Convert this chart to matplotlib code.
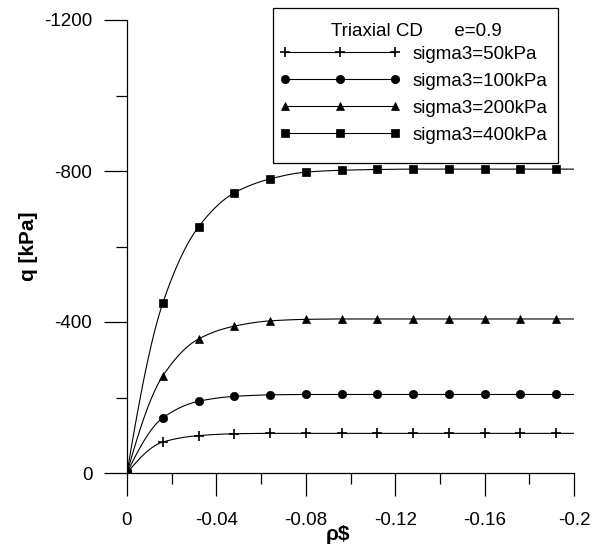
import numpy as np
import matplotlib
matplotlib.use("Agg")
import matplotlib.pyplot as plt
from matplotlib.patches import Rectangle
from matplotlib.ticker import MultipleLocator, FixedLocator, FixedFormatter

plt.rcParams["font.family"] = ["Liberation Sans", "DejaVu Sans"]

# axial strain (negative = compression) and deviator stress q [kPa]
strain = [0.0, -0.016, -0.032, -0.048, -0.064, -0.080, -0.096, -0.112,
          -0.128, -0.144, -0.160, -0.176, -0.192, -0.200]
q_50 = [0, -82, -99, -104, -105, -105, -105, -105, -105, -105, -105, -105, -105, -105]
q_100 = [0, -146, -190, -203, -207, -208, -208, -208, -208, -208, -208, -208, -208, -208]
q_200 = [0, -257, -355, -389, -403, -407, -408, -408, -408, -408, -408, -408, -408, -408]
q_400 = [0, -450, -652, -742, -779, -797, -802, -804, -805, -805, -805, -805, -805, -805]

labels = ["sigma3=50kPa", "sigma3=100kPa", "sigma3=200kPa", "sigma3=400kPa"]
markers = ["+", "o", "^", "s"]
marker_sizes = [7, 6, 6, 6]

x_ticks = [0, -0.04, -0.08, -0.12, -0.16, -0.2]
x_tick_labels = ["0", "-0.04", "-0.08", "-0.12", "-0.16", "-0.2"]
y_ticks = [0, -400, -800, -1200]
y_tick_labels = ["0", "-400", "-800", "-1200"]


def pchip(x, y, xn):
    """Monotone cubic Hermite curve through the given points."""
    x = np.asarray(x, float)
    y = np.asarray(y, float)
    h = np.diff(x)
    d = np.diff(y) / h
    n = len(x)
    m = np.zeros(n)
    for k in range(1, n - 1):
        if d[k - 1] * d[k] > 0:
            w1 = 2 * h[k] + h[k - 1]
            w2 = h[k] + 2 * h[k - 1]
            m[k] = (w1 + w2) / (w1 / d[k - 1] + w2 / d[k])
    m0 = ((2 * h[0] + h[1]) * d[0] - h[0] * d[1]) / (h[0] + h[1])
    if np.sign(m0) != np.sign(d[0]):
        m0 = 0.0
    elif np.sign(d[0]) != np.sign(d[1]) and abs(m0) > abs(3 * d[0]):
        m0 = 3 * d[0]
    m[0] = m0
    out = np.empty_like(xn)
    for i, xv in enumerate(xn):
        k = np.searchsorted(-x, -xv, side="right") - 1
        k = min(max(k, 0), n - 2)
        t = (xv - x[k]) / h[k]
        h00 = 2 * t**3 - 3 * t**2 + 1
        h10 = t**3 - 2 * t**2 + t
        h01 = -2 * t**3 + 3 * t**2
        h11 = t**3 - t**2
        out[i] = h00 * y[k] + h10 * h[k] * m[k] + h01 * y[k + 1] + h11 * h[k] * m[k + 1]
    return out


W, H = 597, 557
fig = plt.figure(figsize=(W / 100, H / 100), dpi=100)
ax = fig.add_axes([127 / W, 1 - 473 / H, (574 - 127) / W, (473 - 20) / H])

xs = np.linspace(strain[0], strain[-1], 400)
handles = []
for q, lab, mk, ms in zip([q_50, q_100, q_200, q_400], labels, markers, marker_sizes):
    mew = 1.2 if mk == "+" else 0.5
    ax.plot(xs, pchip(strain, q, xs), color="black", lw=0.8)
    ax.plot(strain[:-1], q[:-1], linestyle="none", marker=mk, ms=ms,
            color="black", mew=mew)
    h, = ax.plot([], [], color="black", lw=0.8, marker=mk, ms=ms,
                 mew=mew, label=lab)
    handles.append(h)

ax.set_xlim(0, -0.2)
ax.set_ylim(0, -1200)
ax.xaxis.set_major_locator(FixedLocator(x_ticks))
ax.xaxis.set_major_formatter(FixedFormatter(x_tick_labels))
ax.xaxis.set_minor_locator(MultipleLocator(0.02))
ax.yaxis.set_major_locator(FixedLocator(y_ticks))
ax.yaxis.set_major_formatter(FixedFormatter(y_tick_labels))
ax.yaxis.set_minor_locator(MultipleLocator(200))

for s in ["top", "right"]:
    ax.spines[s].set_visible(False)
for s in ["left", "bottom"]:
    ax.spines[s].set_linewidth(0.9)

ax.tick_params(which="major", direction="out", length=16.5, width=0.9, labelsize=13.5)
ax.tick_params(which="minor", direction="out", length=8, width=0.9)
ax.tick_params(axis="y", which="major", pad=8.5)
ax.tick_params(axis="x", which="major", pad=11.5)

fig.text(28 / W, 1 - 246 / H, "q [kPa]", rotation=90, ha="center", va="center",
         fontsize=15, fontweight="bold")
fig.text(338 / W, 1 - 534 / H, "\u03c1\\$", ha="center", va="center",
         fontsize=15, fontweight="heavy")

# legend box with its heading
fig.patches.append(Rectangle((273 / W, 1 - 163 / H), (558 - 273) / W, (163 - 8) / H,
                             transform=fig.transFigure, facecolor="white",
                             edgecolor="black", linewidth=0.9, zorder=5))
fig.text(416 / W, 1 - 32 / H, "Triaxial CD      e=0.9", ha="center", va="center",
         fontsize=13.5, zorder=6)
leg = fig.legend(handles=handles, loc="upper left",
                 bbox_to_anchor=(279.5 / W, 1 - 45.5 / H),
                 fontsize=13.5, numpoints=3, handlelength=6.45, handletextpad=0.66,
                 labelspacing=0.53, borderpad=0, borderaxespad=0,
                 frameon=False)
leg.set_zorder(7)

fig.savefig("out.png", dpi=100)
